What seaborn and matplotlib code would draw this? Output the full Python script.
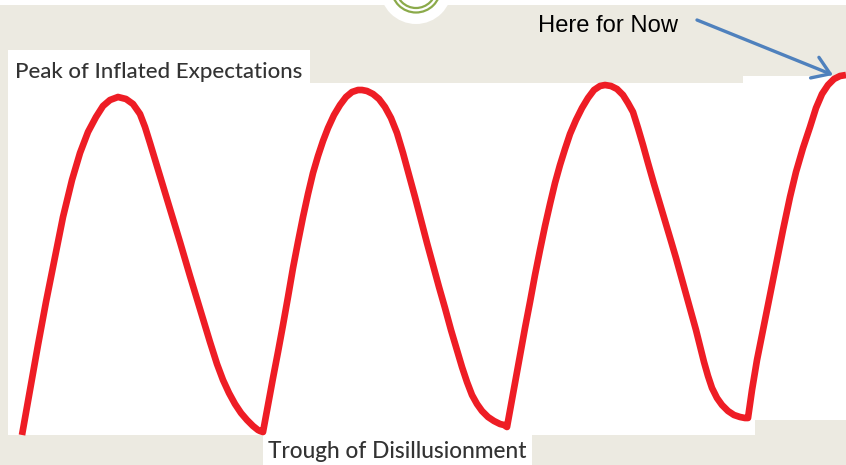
import numpy as np
import pandas as pd
import matplotlib
matplotlib.use("Agg")
import matplotlib.pyplot as plt
import seaborn as sns
from matplotlib.patches import Rectangle, Circle

# Curve, in pixel space (y grows downward)
cycle1_x = [22, 30, 38, 46, 55, 63, 72, 80, 88, 96, 103, 110, 118, 126, 133, 140, 145, 150, 160, 170, 180, 190,
            200, 210, 217, 223, 229, 235, 241, 247, 253, 258, 260]
cycle1_y = [435, 390, 345, 302, 257, 217, 180, 153, 132, 117, 106, 100, 97, 99, 104, 114, 127, 143, 176, 209, 242, 276,
            309, 342, 364, 380, 393, 404, 413, 420, 426, 430, 431]
cycle2_x = [263, 268, 273, 278, 283, 288, 293, 298, 303, 308, 313, 318, 323, 328, 334, 340, 346, 352, 358, 362,
            367, 373, 379, 385, 391, 397, 403, 409, 415, 421, 427, 433, 439, 445, 451, 457, 462, 467, 472, 477,
            482, 488, 494, 500, 504]
cycle2_y = [432, 405, 378, 352, 325, 297, 268, 242, 217, 194, 173, 156, 141, 128, 115, 105, 97, 92, 90, 90,
            91, 94, 99, 107, 118, 133, 153, 175, 197, 220, 243, 265, 287, 308, 330, 350, 367, 382, 395, 404,
            411, 417, 421, 424, 425]
cycle3_x = [507, 511, 515, 520, 525, 530, 535, 540, 545, 550, 555, 560, 565, 570, 576, 582, 588, 594, 600, 605,
            611, 617, 623, 628, 633, 638, 643, 648, 654, 660, 666, 671, 676, 681, 686, 691, 696, 700, 704, 708,
            712, 717, 722, 728, 734, 740, 745]
cycle3_y = [427, 405, 383, 355, 328, 302, 275, 250, 226, 204, 183, 165, 149, 134, 120, 108, 98, 90, 86, 85,
            86, 89, 95, 103, 112, 128, 145, 163, 184, 204, 224, 241, 258, 276, 294, 312, 330, 346, 362, 376,
            388, 398, 405, 411, 415, 417, 418]
cycle4_x = [748, 752, 757, 762, 767, 772, 777, 783, 790, 796, 803, 810, 816, 822, 828, 834, 840, 846]
cycle4_y = [418, 390, 360, 335, 310, 285, 260, 230, 197, 172, 148, 127, 108, 94, 85, 79, 76, 75]

peak_label = "Peak of Inflated Expectations"
trough_label = "Trough of Disillusionment"
now_label = "Here for Now"

# white pasted panels: x0, y0, x1, y1
panels = [
    (0, 0, 846, 5),
    (8, 50, 310, 83),
    (8, 83, 755, 435),
    (743, 76, 846, 420),
    (263, 435, 532, 465),
]

BG = "#ECEAE1"
RED = "#EE1D25"
BLUE = "#4F81BD"
GREEN = "#8BAA4A"

sns.set_style("white")
plt.rcParams["font.family"] = ["Lato", "DejaVu Sans"]

fig = plt.figure(figsize=(8.46, 4.65), dpi=100, facecolor=BG)
ax = fig.add_axes([0, 0, 1, 1])
ax.set_facecolor(BG)

for x0, y0, x1, y1 in panels:
    ax.add_patch(Rectangle((x0, y0), x1 - x0, y1 - y0, facecolor="white", edgecolor="none", zorder=1))

# little logo circle at the top
ax.add_patch(Circle((416, -12), 36, facecolor="white", edgecolor="none", zorder=1))
ax.add_patch(Circle((416, -12), 24.5, facecolor="none", edgecolor=GREEN, lw=1.6, zorder=2))
ax.add_patch(Circle((416, -12), 20, facecolor="none", edgecolor=GREEN, lw=1.6, zorder=2))

curve = pd.DataFrame({
    "x": cycle1_x + cycle2_x + cycle3_x + cycle4_x,
    "y": cycle1_y + cycle2_y + cycle3_y + cycle4_y,
})
sns.lineplot(data=curve, x="x", y="y", sort=False, estimator=None, color=RED,
             lw=4.8, ax=ax, zorder=3, solid_capstyle="butt", solid_joinstyle="round")
ax.set_xlim(0, 846)
ax.set_ylim(465, 0)
ax.axis("off")


def fit_width(txt, target):
    fig.canvas.draw()
    w = txt.get_window_extent().width
    txt.set_fontsize(txt.get_fontsize() * target / w)


t1 = ax.text(15, 78, peak_label, color="#333333", fontsize=15, fontweight="medium",
             ha="left", va="baseline", zorder=4)
t2 = ax.text(268, 458, trough_label, color="#333333", fontsize=15, fontweight="medium",
             ha="left", va="baseline", zorder=4)
t3 = ax.text(538, 32, now_label, color="black", fontsize=16, ha="left", va="baseline",
             family=["Liberation Sans", "DejaVu Sans"], zorder=4)
fit_width(t1, 288)
fit_width(t2, 259)
fit_width(t3, 140)

ax.annotate("", xy=(833, 75), xytext=(697, 20),
            arrowprops=dict(arrowstyle="->,head_length=0.6,head_width=0.4", color=BLUE,
                            lw=2.4, mutation_scale=20, shrinkA=0, shrinkB=0), zorder=5)

fig.savefig("out.png", dpi=100, facecolor=BG)
